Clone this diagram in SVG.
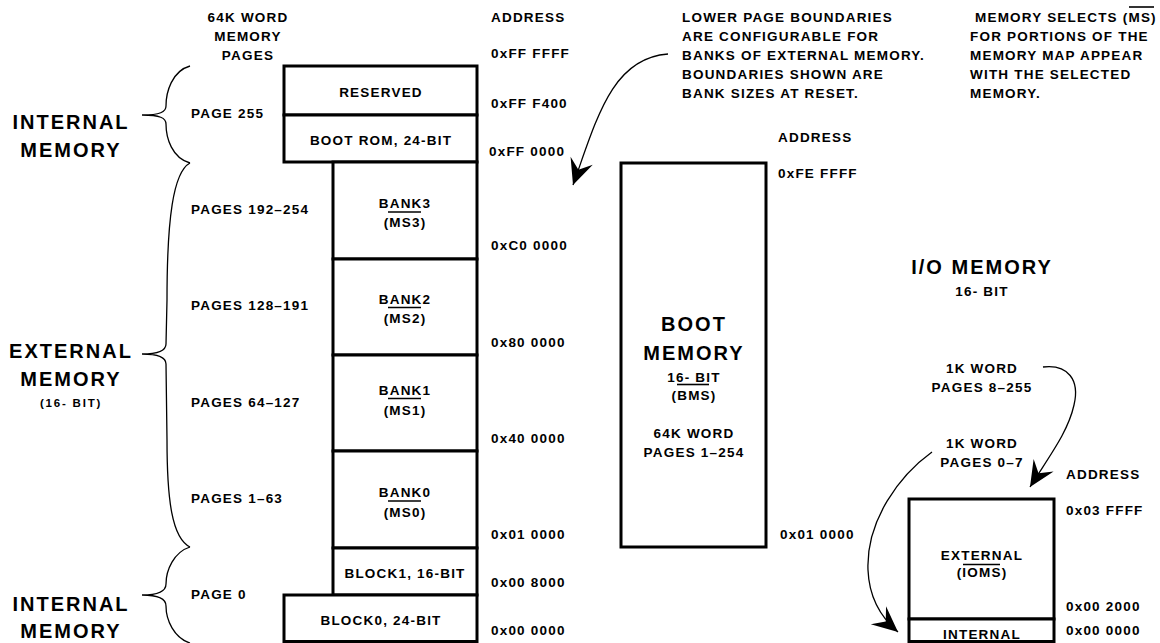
<svg xmlns="http://www.w3.org/2000/svg" width="1160" height="643" viewBox="0 0 1160 643">
<style>
text{font-family:"Liberation Sans",Arial,sans-serif;font-weight:bold;fill:#000;font-size:13.5px;letter-spacing:1.2px}
.big{font-size:20px;letter-spacing:2px}
.sm{font-size:11.5px;letter-spacing:1.8px}
.m{text-anchor:middle}
.box{fill:#fff;stroke:#000;stroke-width:3}
.ov{stroke:#000;stroke-width:1.6}
.brace{fill:none;stroke:#000;stroke-width:1.3}
.conn{fill:none;stroke:#000;stroke-width:1.3}
</style>
<defs>
<marker id="ah" markerUnits="userSpaceOnUse" markerWidth="30" markerHeight="30" viewBox="-26 -13 28 26" refX="0" refY="0" orient="auto">
<path d="M0,0 L-24,-11 L-15,0 L-24,11 Z" fill="#000"/>
</marker>
</defs>

<g id="labels">
<text class="m" x="248" y="22">64K WORD</text>
<text class="m" x="248" y="41">MEMORY</text>
<text class="m" x="248" y="60">PAGES</text>
<text x="491" y="22">ADDRESS</text>
<text x="682" y="22">LOWER PAGE BOUNDARIES</text>
<text x="682" y="41">ARE CONFIGURABLE FOR</text>
<text x="682" y="60">BANKS OF EXTERNAL MEMORY.</text>
<text x="682" y="79">BOUNDARIES SHOWN ARE</text>
<text x="682" y="98">BANK SIZES AT RESET.</text>
<text x="975" y="22">MEMORY SELECTS (MS)</text>
<line class="ov" x1="1129" y1="7" x2="1154" y2="7"/>
<text x="970" y="41">FOR  PORTIONS OF THE</text>
<text x="970" y="60">MEMORY MAP APPEAR</text>
<text x="970" y="79">WITH THE SELECTED</text>
<text x="970" y="98">MEMORY.</text>

<text class="big m" x="71" y="129">INTERNAL</text>
<text class="big m" x="71" y="157">MEMORY</text>
<text class="big m" x="71" y="358">EXTERNAL</text>
<text class="big m" x="71" y="386">MEMORY</text>
<text class="sm m" x="71" y="407">(16- BIT)</text>
<text class="big m" x="71" y="611">INTERNAL</text>
<text class="big m" x="71" y="638">MEMORY</text>

<text x="191" y="118">PAGE 255</text>
<text x="191" y="214">PAGES 192–254</text>
<text x="191" y="310">PAGES 128–191</text>
<text x="191" y="407">PAGES 64–127</text>
<text x="191" y="503">PAGES 1–63</text>
<text x="191" y="599">PAGE 0</text>

<text x="491" y="58">0xFF FFFF</text>
<text x="491" y="108">0xFF F400</text>
<text x="489" y="156">0xFF 0000</text>
<text x="491" y="250">0xC0 0000</text>
<text x="491" y="347">0x80 0000</text>
<text x="491" y="443">0x40 0000</text>
<text x="491" y="539">0x01 0000</text>
<text x="491" y="587">0x00 8000</text>
<text x="491" y="635">0x00 0000</text>

<text x="778" y="142">ADDRESS</text>
<text x="778" y="178">0xFE FFFF</text>
<text x="780" y="539">0x01 0000</text>

<text class="big m" x="982" y="274">I/O MEMORY</text>
<text class="m" x="982" y="296">16- BIT</text>
<text class="m" x="982" y="373">1K WORD</text>
<text class="m" x="982" y="392">PAGES 8–255</text>
<text class="m" x="982" y="448">1K WORD</text>
<text class="m" x="982" y="467">PAGES 0–7</text>
<text x="1066" y="479">ADDRESS</text>
<text x="1066" y="515">0x03 FFFF</text>
<text x="1066" y="611">0x00 2000</text>
<text x="1066" y="635">0x00 0000</text>
</g>

<g id="braces">
<path class="brace" d="M190,66 C172,71 166,92 166,106 C166,112 160,115 142,115 C160,115 166,118 166,124 C166,138 172,158 190,163"/>
<path class="brace" d="M190,163 C173,172 167,220 167,300 L166,344 C166,350 160,354 142,354 C160,354 166,358 166,364 L167,440 C167,500 172,538 190,547"/>
<path class="brace" d="M190,547 C174,552 166,570 166,584 C166,591 160,595 142,595 C160,595 166,599 166,606 C166,620 174,638 190,643"/>
</g>

<g id="reserved"><rect class="box" x="284" y="66" width="193" height="49"/><text class="m" x="381" y="97">RESERVED</text></g>
<g id="bootrom"><rect class="box" x="284" y="115" width="193" height="47"/><text class="m" x="381" y="145">BOOT ROM, 24-BIT</text></g>
<g id="bank3"><rect class="box" x="333" y="162" width="144" height="97"/><text class="m" x="405" y="208">BANK3</text><line class="ov" x1="388" y1="212" x2="421" y2="212"/><text class="m" x="405" y="227">(MS3)</text></g>
<g id="bank2"><rect class="box" x="333" y="259" width="144" height="96"/><text class="m" x="405" y="304">BANK2</text><line class="ov" x1="388" y1="307.5" x2="421" y2="307.5"/><text class="m" x="405" y="323">(MS2)</text></g>
<g id="bank1"><rect class="box" x="333" y="355" width="144" height="96"/><text class="m" x="405" y="395">BANK1</text><line class="ov" x1="388" y1="398.5" x2="421" y2="398.5"/><text class="m" x="405" y="415">(MS1)</text></g>
<g id="bank0"><rect class="box" x="333" y="451" width="144" height="97"/><text class="m" x="405" y="497">BANK0</text><line class="ov" x1="388" y1="501" x2="421" y2="501"/><text class="m" x="405" y="517">(MS0)</text></g>
<g id="block1"><rect class="box" x="333" y="548" width="144" height="47"/><text class="m" x="405" y="578">BLOCK1, 16-BIT</text></g>
<g id="block0"><rect class="box" x="284" y="595" width="193" height="46.5"/><text class="m" x="381" y="625">BLOCK0, 24-BIT</text></g>

<g id="bootmem"><rect class="box" x="621" y="163" width="145" height="384"/>
<text class="big m" x="694" y="331">BOOT</text>
<text class="big m" x="694" y="360">MEMORY</text>
<text class="m" x="694" y="382">16- BIT</text>
<line class="ov" x1="677" y1="384.5" x2="709" y2="384.5"/>
<text class="m" x="694" y="400">(BMS)</text>
<text class="m" x="694" y="438">64K WORD</text>
<text class="m" x="694" y="457">PAGES 1–254</text>
</g>

<g id="io-external"><rect class="box" x="909" y="499" width="145" height="120"/>
<text class="m" x="982" y="560">EXTERNAL</text>
<line class="ov" x1="963" y1="564.5" x2="1000" y2="564.5"/>
<text class="m" x="982" y="577">(IOMS)</text>
</g>
<g id="io-internal"><rect class="box" x="909" y="619" width="145" height="22.5"/>
<text class="m" x="982" y="639">INTERNAL</text>
</g>

<g id="connectors">
<path class="conn" d="M668,54 C612,58 597,118 573,185" marker-end="url(#ah)"/>
<path class="conn" d="M1043,367 C1068,364 1080,380 1074,405 C1068,432 1050,455 1030,487" marker-end="url(#ah)"/>
<path class="conn" d="M932,452 C900,475 866,520 868,570 C869,595 878,615 898,632" marker-end="url(#ah)"/>
</g>
</svg>
